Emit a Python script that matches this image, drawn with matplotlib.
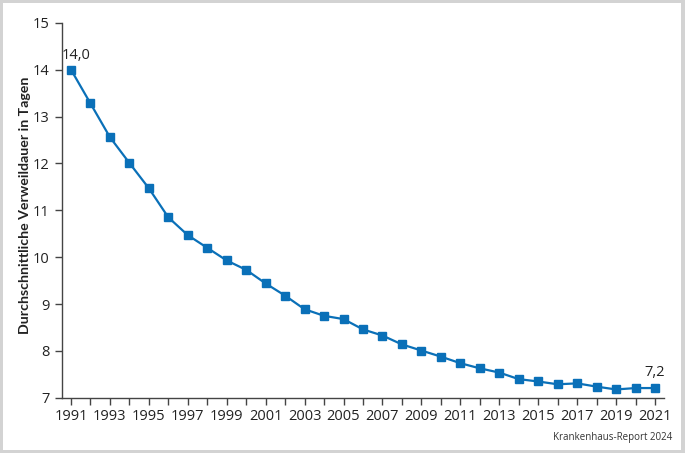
import matplotlib
matplotlib.use("Agg")
import matplotlib.pyplot as plt
from matplotlib.patches import Rectangle

years = list(range(1991, 2022))
values = [14.00, 13.28, 12.56, 12.01, 11.47, 10.85, 10.47, 10.20, 9.93, 9.73,
          9.44, 9.18, 8.89, 8.75, 8.68, 8.46, 8.33, 8.14, 8.01, 7.88,
          7.74, 7.63, 7.54, 7.40, 7.35, 7.29, 7.31, 7.24, 7.18, 7.21, 7.21]
first_label = "14,0"
last_label = "7,2"
y_label = "Durchschnittliche Verweildauer in Tagen"
source = "Krankenhaus-Report 2024"
xtick_labels_years = list(range(1991, 2022, 2))

plt.rcParams['font.family'] = ['Open Sans', 'DejaVu Sans']

W, H = 685, 453
fig = plt.figure(figsize=(W / 100, H / 100), dpi=100)
fig.patch.set_facecolor('#d3d3d3')
fig.patches.append(Rectangle((3 / W, 3 / H), (W - 7) / W, (H - 6) / H,
                             transform=fig.transFigure, facecolor='white',
                             edgecolor='none', zorder=-10))

ax = fig.add_axes([62 / W, (H - 397.9) / H, (664 - 62) / W, (397.9 - 22.7) / H])
ax.set_facecolor('none')
blue = '#0a70b8'
ax.plot(years, values, color=blue, lw=1.6, marker='s', ms=6, mfc=blue, mec=blue, zorder=3, clip_on=False)

ax.set_xlim(1990.54, 2021.46)
ax.set_ylim(7, 15)
ax.set_xticks(years)
ax.set_xticklabels([str(y) if y in xtick_labels_years else '' for y in years])
ax.set_yticks(range(7, 16))

for s in ['top', 'right']:
    ax.spines[s].set_visible(False)
for s in ['left', 'bottom']:
    ax.spines[s].set_color('#444444')
    ax.spines[s].set_linewidth(1.0)
ax.tick_params(axis='both', direction='out', length=5, width=1.0, color='#444444',
               labelcolor='#222222', labelsize=10.5)
ax.tick_params(axis='x', pad=3)
ax.tick_params(axis='y', pad=4)

ax.set_ylabel(y_label, fontsize=10.2, fontweight='bold', color='#222222',
              family=['Lato', 'DejaVu Sans'])
ax.yaxis.set_label_coords(-0.052, 0.513)

ax.annotate(first_label, (years[0], values[0]), xytext=(4, 5), textcoords='offset points',
            ha='center', va='bottom', fontsize=10.5, color='#222222')
ax.annotate(last_label, (years[-1], values[-1]), xytext=(0, 6), textcoords='offset points',
            ha='center', va='bottom', fontsize=10.5, color='#222222')

fig.text(672 / W, 1 - 437.5 / H, source, ha='right', va='center', fontsize=7, color='#333333')

fig.savefig('out.png', dpi=100, facecolor=fig.get_facecolor())
